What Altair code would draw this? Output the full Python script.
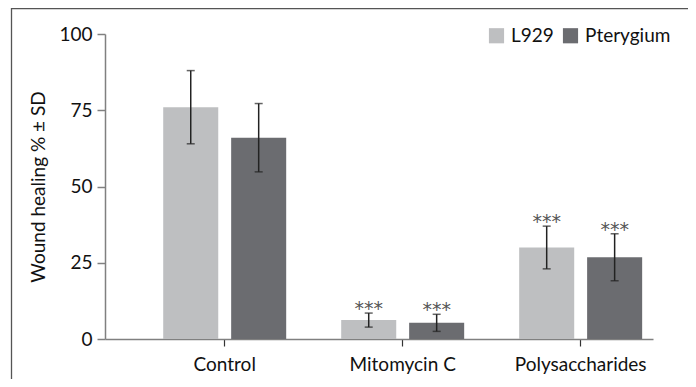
import altair as alt
import pandas as pd

groups = ["Control", "Mitomycin C", "Polysaccharides"]
cells = ["L929", "Pterygium"]
l929_mean = [76.0, 6.2, 30.0]
l929_sd = [12.0, 2.3, 7.0]
pter_mean = [66.0, 5.3, 26.8]
pter_sd = [11.2, 2.8, 7.7]
sig = ["", "***", "***"]

rows = []
for i, g in enumerate(groups):
    rows.append({"group": g, "cell": "L929", "mean": l929_mean[i],
                 "lo": l929_mean[i] - l929_sd[i], "hi": l929_mean[i] + l929_sd[i], "sig": sig[i]})
    rows.append({"group": g, "cell": "Pterygium", "mean": pter_mean[i],
                 "lo": pter_mean[i] - pter_sd[i], "hi": pter_mean[i] + pter_sd[i], "sig": sig[i]})
df = pd.DataFrame(rows)

FONT = "Lato"
FS = 19
light = "#bebfc1"
dark = "#6b6c70"

x = alt.X("group:N", sort=groups,
          scale=alt.Scale(paddingInner=0.309, paddingOuter=0.194, align=0.843),
          axis=alt.Axis(title=None, labelAngle=0, labelFontSize=FS, labelColor="#111",
                        labelFont=FONT, labelPadding=9, tickSize=7, tickColor="#333",
                        tickWidth=1.2, domainColor="#808080", domainWidth=1.5))
xo = alt.XOffset("cell:N", sort=cells, scale=alt.Scale(paddingInner=0.19, paddingOuter=0))
yscale = alt.Scale(domain=[0, 100])

bars = alt.Chart(df).mark_bar().encode(
    x=x, xOffset=xo,
    y=alt.Y("mean:Q", scale=yscale,
            axis=alt.Axis(title="Wound healing % ± SD", values=[0, 25, 50, 75, 100],
                          grid=False, labelFontSize=FS, labelFont=FONT, labelColor="#111",
                          titleFontSize=FS, titleFont=FONT, titleFontWeight="normal",
                          titleColor="#111", titlePadding=10, tickSize=8, tickColor="#808080",
                          tickWidth=1.5, domainColor="#808080", domainWidth=1.5,
                          labelPadding=5)),
    color=alt.Color("cell:N", sort=cells, scale=alt.Scale(domain=cells, range=[light, dark]),
                    legend=alt.Legend(title=None, orient="none", direction="horizontal",
                                      legendX=382, legendY=-8, symbolType="square",
                                      symbolSize=230, symbolStrokeWidth=0,
                                      labelFontSize=FS, labelFont=FONT, labelColor="#111",
                                      labelOffset=5, columnPadding=7)),
)

rules = alt.Chart(df).mark_rule(color="#222", strokeWidth=1.5).encode(
    x=x, xOffset=xo, y=alt.Y("lo:Q", scale=yscale), y2="hi:Q")
cap_hi = alt.Chart(df).mark_tick(color="#222", size=8, thickness=1.5).encode(
    x=x, xOffset=xo, y=alt.Y("hi:Q", scale=yscale))
cap_lo = alt.Chart(df).mark_tick(color="#222", size=8, thickness=1.5).encode(
    x=x, xOffset=xo, y=alt.Y("lo:Q", scale=yscale))
stars = alt.Chart(df).mark_text(font="DejaVu Sans", fontSize=19, color="#555",
                                baseline="alphabetic", dy=2).encode(
    x=x, xOffset=xo, y=alt.Y("hi:Q", scale=yscale), text="sig:N")

frame = alt.Chart(pd.DataFrame({"a": [0]})).mark_rect(
    fillOpacity=0, stroke="#555", strokeWidth=1.3, clip=False).encode(
    x=alt.value(-93.5), x2=alt.value(585.5), y=alt.value(-25.3), y2=alt.value(400))

chart = alt.layer(frame, bars, rules, cap_hi, cap_lo, stars).properties(
    width=548, height=305,
    autosize=alt.AutoSizeParams(type="none"),
    padding={"left": 97, "top": 26, "right": 35, "bottom": 40},
).configure_view(stroke=None)

chart.save("out.html", embed_options={"renderer": "svg", "actions": False})
